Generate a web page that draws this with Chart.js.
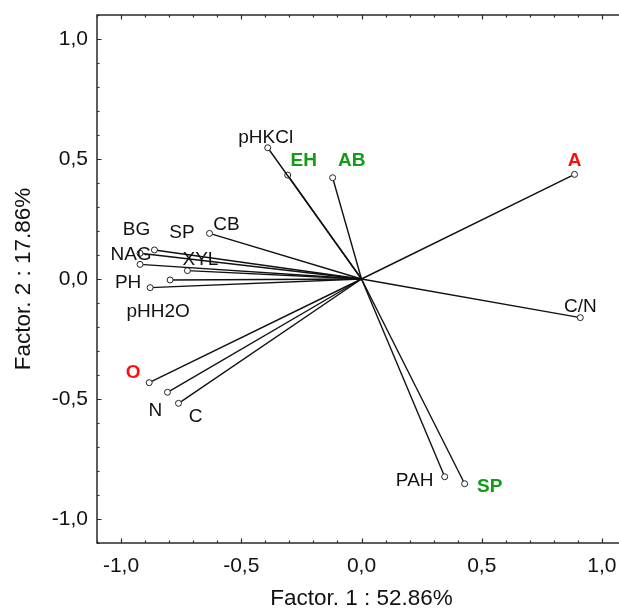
<!DOCTYPE html>
<html>
<head>
<meta charset="utf-8">
<title>PCA loadings</title>
<script src="https://cdn.jsdelivr.net/npm/chart.js@4/dist/chart.umd.min.js"></script>
<style>
    html, body { margin: 0; padding: 0; background: #fff; overflow: hidden; }
    #wrap { width: 619px; height: 608px; overflow: hidden; }
    canvas { display: block; }
</style>
</head>
<body>
<div id="wrap"><canvas id="pcaChart" width="631" height="608"></canvas></div>
<script>
// Loadings of each variable on the first two factors
const variables = ['pHKCl', 'EH', 'AB', 'A', 'CB', 'BG', 'NAG', 'SP', 'XYL', 'PH', 'pHH2O', 'C/N', 'O', 'N', 'C', 'PAH', 'SP'];
const factor1 = [-0.390, -0.307, -0.120, 0.886, -0.632, -0.861, -0.921, -0.921, -0.724, -0.879, -0.796, 0.910, -0.883, -0.807, -0.761, 0.346, 0.429];
const factor2 = [0.547, 0.433, 0.422, 0.436, 0.190, 0.121, 0.107, 0.061, 0.035, -0.036, -0.004, -0.161, -0.432, -0.472, -0.518, -0.824, -0.853];
const labelGroup = ['plain', 'green', 'green', 'red', 'plain', 'plain', 'plain', 'plain', 'plain', 'plain', 'plain', 'plain', 'red', 'plain', 'plain', 'plain', 'green'];
const axisTicks = [-1, -0.5, 0, 0.5, 1];

// where each name sits relative to its point, in pixels
const labelShift = [
    [-2, -11], [16, -15], [19, -18], [0, -15], [17, -10], [-18, -21], [-9, 0], [42, -33],
    [13, -12], [-22, -6], [-12, 31], [0, -12], [-16, -11], [-12, 17], [17, 12], [-30, 3], [25, 2]
];

const groupColors = { plain: '#111111', green: '#149b1a', red: '#ff0d0d' };
const FONT = '"Liberation Sans", Arial, sans-serif';

function fmtTick(v) {
    return v.toFixed(1).replace('.', ',');
}

// frame with inward major/minor ticks on every side
const framePlugin = {
    id: 'frame',
    afterDraw(chart) {
        const ctx = chart.ctx;
        const a = chart.chartArea;
        const xs = chart.scales.x, ys = chart.scales.y;
        ctx.save();
        ctx.strokeStyle = '#2a2a2a';
        ctx.lineWidth = 1.5;
        ctx.strokeRect(a.left, a.top, a.right - a.left, a.bottom - a.top);
        ctx.lineWidth = 1.2;
        ctx.beginPath();
        for (let i = -11; i <= 11; i++) {
            const len = i % 5 === 0 ? 4.5 : 2.5;
            const px = Math.round(xs.getPixelForValue(i / 10)) + 0.5;
            const py = Math.round(ys.getPixelForValue(i / 10)) + 0.5;
            ctx.moveTo(px, a.bottom); ctx.lineTo(px, a.bottom - len);
            ctx.moveTo(px, a.top); ctx.lineTo(px, a.top + len);
            ctx.moveTo(a.left, py); ctx.lineTo(a.left + len, py);
            ctx.moveTo(a.right, py); ctx.lineTo(a.right - len, py);
        }
        ctx.stroke();
        ctx.restore();
    }
};

// variable names next to the arrow tips
const namePlugin = {
    id: 'names',
    afterDatasetsDraw(chart) {
        const ctx = chart.ctx;
        const xs = chart.scales.x, ys = chart.scales.y;
        ctx.save();
        ctx.textAlign = 'center';
        ctx.textBaseline = 'middle';
        variables.forEach((name, i) => {
            const group = labelGroup[i];
            ctx.font = (group === 'plain' ? '' : 'bold ') + '19px ' + FONT;
            ctx.fillStyle = groupColors[group];
            const x = xs.getPixelForValue(factor1[i]) + labelShift[i][0];
            const y = ys.getPixelForValue(factor2[i]) + labelShift[i][1] + 1;
            ctx.fillText(name, x, y);
        });
        ctx.restore();
    }
};

function initLoadingsChart() {
    const ctx = document.getElementById('pcaChart').getContext('2d');
    const datasets = variables.map((name, i) => ({
        label: name,
        data: [{ x: 0, y: 0 }, { x: factor1[i], y: factor2[i] }],
        showLine: true,
        borderColor: '#111111',
        borderWidth: 1.4,
        pointRadius: [0, 3],
        pointBorderWidth: 1,
        pointBorderColor: '#222222',
        pointBackgroundColor: '#ffffff'
    }));

    new Chart(ctx, {
        type: 'scatter',
        data: { datasets: datasets },
        options: {
            responsive: false,
            animation: false,
            devicePixelRatio: 1,
            layout: { padding: { top: 15, right: 0, left: 0, bottom: 0 } },
            plugins: {
                legend: { display: false },
                tooltip: { enabled: false }
            },
            scales: {
                x: {
                    type: 'linear',
                    min: -1.1,
                    max: 1.1,
                    afterBuildTicks: scale => { scale.ticks = axisTicks.map(v => ({ value: v })); },
                    afterFit: scale => { scale.height = 65; },
                    grid: { display: false, drawTicks: true, tickLength: 8 },
                    border: { display: false },
                    ticks: {
                        color: '#111111',
                        padding: 3,
                        maxRotation: 0,
                        font: { family: FONT, size: 21 },
                        callback: v => fmtTick(v)
                    },
                    title: {
                        display: true,
                        text: 'Factor. 1 : 52.86%',
                        color: '#111111',
                        font: { family: FONT, size: 22.5, lineHeight: 0.85 },
                        padding: { top: 0, bottom: 0 }
                    }
                },
                y: {
                    type: 'linear',
                    min: -1.1,
                    max: 1.1,
                    afterBuildTicks: scale => { scale.ticks = axisTicks.map(v => ({ value: v })); },
                    afterFit: scale => { scale.width = 97; },
                    grid: { display: false, drawTicks: false },
                    border: { display: false },
                    ticks: {
                        color: '#111111',
                        padding: 9,
                        font: { family: FONT, size: 21, lineHeight: 0.4 },
                        callback: v => fmtTick(v)
                    },
                    title: {
                        display: true,
                        text: 'Factor. 2 : 17.86%',
                        color: '#111111',
                        font: { family: FONT, size: 22.5 },
                        padding: { top: 10, bottom: 0 }
                    }
                }
            }
        },
        plugins: [framePlugin, namePlugin]
    });
}

document.addEventListener('DOMContentLoaded', () => {
    initLoadingsChart();
});
</script>
</body>
</html>
